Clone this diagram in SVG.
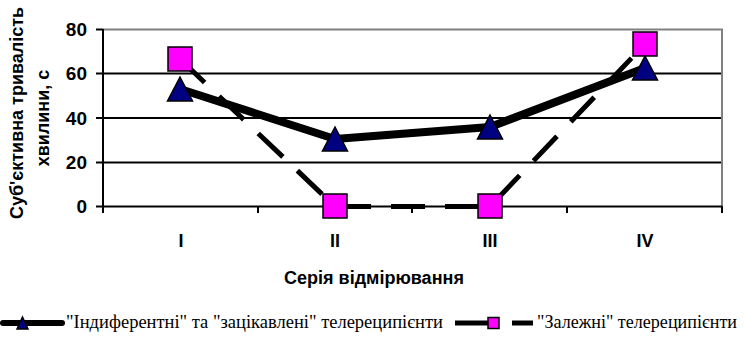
<svg xmlns="http://www.w3.org/2000/svg" width="744" height="339" viewBox="0 0 744 339">
<style>
.ax{font-family:"Liberation Sans",Arial,sans-serif;font-weight:bold;font-size:18px;fill:#000}
.num{font-size:19px}
.lg{font-family:"Liberation Serif","Times New Roman",serif;font-size:18px;fill:#000}
.grid{stroke:#000;stroke-width:2}
.frame{stroke:#808080;stroke-width:2;fill:none}
.tick{stroke:#000;stroke-width:2}
.s1{fill:none;stroke:#000;stroke-width:8;stroke-linejoin:round}
.s2{fill:none;stroke:#000;stroke-width:5;stroke-dasharray:34 20}
.tri{fill:#000080;stroke:#000;stroke-width:1.5}
.sq{fill:#FF00FF;stroke:#000;stroke-width:1.5}
</style>
<defs>
<path id="tri" d="M0,-12 L12.5,12 L-12.5,12 Z"/>
<rect id="sq" x="-12" y="-12" width="24" height="24"/>
</defs>
<rect width="744" height="339" fill="#fff"/>
<g id="plot-area">
<line class="grid" x1="103" y1="73.5" x2="722" y2="73.5"/>
<line class="grid" x1="103" y1="118" x2="722" y2="118"/>
<line class="grid" x1="103" y1="162.5" x2="722" y2="162.5"/>
<polyline class="frame" points="103,29.5 722,29.5 722,206"/>
<line class="grid" x1="103" y1="206.5" x2="722" y2="206.5"/>
<line class="grid" x1="103" y1="29" x2="103" y2="207"/>
<g class="tick">
<line x1="96" y1="29.5" x2="103" y2="29.5"/>
<line x1="96" y1="73.5" x2="103" y2="73.5"/>
<line x1="96" y1="118" x2="103" y2="118"/>
<line x1="96" y1="162.5" x2="103" y2="162.5"/>
<line x1="96" y1="206.5" x2="103" y2="206.5"/>
<line x1="103" y1="206" x2="103" y2="213"/>
<line x1="258" y1="206" x2="258" y2="213"/>
<line x1="412" y1="206" x2="412" y2="213"/>
<line x1="567" y1="206" x2="567" y2="213"/>
<line x1="722" y1="206" x2="722" y2="213"/>
</g>
</g>
<g id="y-labels" class="ax num" text-anchor="end">
<text x="87" y="36">80</text>
<text x="87" y="80">60</text>
<text x="87" y="124.5">40</text>
<text x="87" y="169">20</text>
<text x="87" y="213">0</text>
</g>
<g id="x-labels" class="ax" text-anchor="middle">
<text x="181" y="247">I</text>
<text x="335" y="247">II</text>
<text x="490" y="247">III</text>
<text x="645" y="247">IV</text>
</g>
<text id="x-title" class="ax" x="374" y="284" text-anchor="middle">Серія відмірювання</text>
<g id="y-title" class="ax" text-anchor="middle">
<text transform="translate(23,113) rotate(-90)">Суб'єктивна тривалість</text>
<text transform="translate(49,118) rotate(-90)">хвилини, с</text>
</g>
<g id="connectors">
<polyline id="line-series1" class="s1" points="180,89 335,139 490,127 645,68"/>
<polyline id="line-series2" class="s2" points="180,59 335,206.5 490,206.5 645,44"/>
</g>
<g id="series1-markers">
<use href="#tri" class="tri" x="180" y="89"/>
<use href="#tri" class="tri" x="335" y="139"/>
<use href="#tri" class="tri" x="490" y="127"/>
<use href="#tri" class="tri" x="645" y="68"/>
</g>
<g id="series2-markers">
<use href="#sq" class="sq" x="180" y="59"/>
<use href="#sq" class="sq" x="335" y="206"/>
<use href="#sq" class="sq" x="490" y="206"/>
<use href="#sq" class="sq" x="645" y="44"/>
</g>
<g id="legend">
<g id="legend-1">
<line x1="3" y1="323" x2="62" y2="323" stroke="#000" stroke-width="6" stroke-linecap="round"/>
<path d="M22.5,317 L28,329 L17,329 Z" class="tri"/>
<text class="lg" x="66" y="328" textLength="377" lengthAdjust="spacingAndGlyphs">"Індиферентні" та "зацікавлені" телереципієнти</text>
</g>
<g id="legend-2">
<line x1="455" y1="323" x2="489" y2="323" stroke="#000" stroke-width="5"/>
<rect x="488" y="317.5" width="11" height="11" class="sq" stroke-width="2"/>
<line x1="512" y1="323" x2="533" y2="323" stroke="#000" stroke-width="5"/>
<text class="lg" x="537" y="328" textLength="200" lengthAdjust="spacingAndGlyphs">"Залежні" телереципієнти</text>
</g>
</g>
</svg>
